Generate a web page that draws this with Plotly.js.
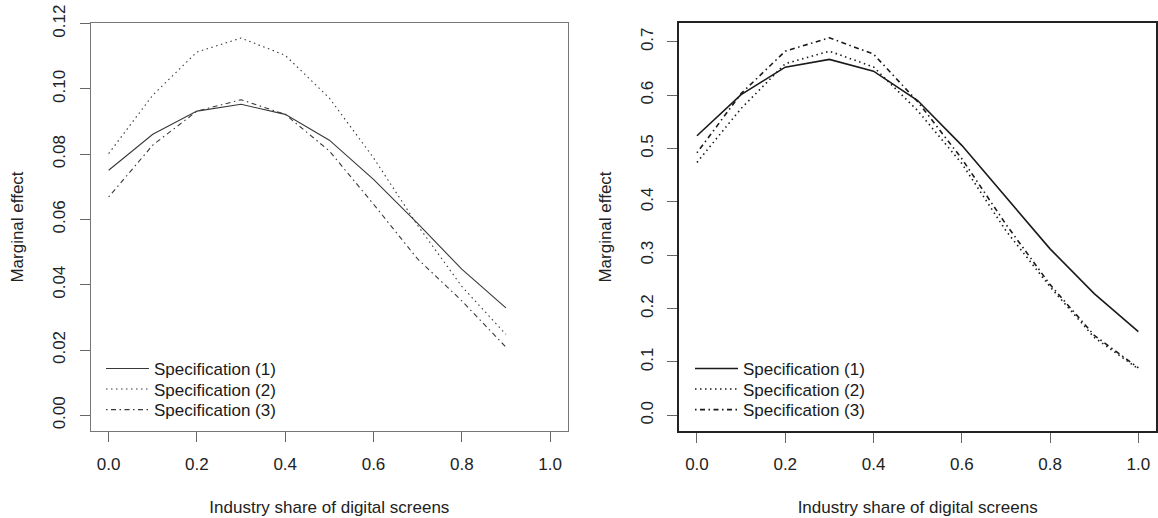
<!DOCTYPE html>
<html>
<head>
<meta charset="utf-8">
<script src="https://cdn.plot.ly/plotly-3.0.1.min.js"></script>
<style>html,body{margin:0;padding:0;background:#fff;}#chart{width:1158px;height:518px;}</style>
</head>
<body>
<div id="chart"></div>
<script>
// Industry share of digital screens
const xLeft  = [0, 0.1, 0.2, 0.3, 0.4, 0.5, 0.6, 0.7, 0.8, 0.9];
const xRight = [0, 0.1, 0.2, 0.3, 0.4, 0.5, 0.6, 0.7, 0.8, 0.9, 1.0];

// Left panel: marginal effect
const leftSpec1 = [0.0751, 0.0861, 0.0932, 0.0953, 0.0922, 0.0843, 0.0723, 0.0588, 0.0448, 0.0329];
const leftSpec2 = [0.0802, 0.0981, 0.1113, 0.1156, 0.1103, 0.0972, 0.0789, 0.0582, 0.0395, 0.0248];
const leftSpec3 = [0.0669, 0.0828, 0.0932, 0.0967, 0.0922, 0.0810, 0.0647, 0.0479, 0.0351, 0.0209];

// Right panel: marginal effect
const rightSpec1 = [0.524, 0.601, 0.6525, 0.667, 0.645, 0.590, 0.506, 0.409, 0.312, 0.228, 0.157];
const rightSpec2 = [0.474, 0.575, 0.659, 0.6825, 0.653, 0.571, 0.472, 0.346, 0.241, 0.146, 0.087];
const rightSpec3 = [0.492, 0.603, 0.6825, 0.7076, 0.677, 0.588, 0.481, 0.358, 0.245, 0.150, 0.089];

const seriesNames = ['Specification (1)', 'Specification (2)', 'Specification (3)'];
const xTitle = 'Industry share of digital screens';
const yTitle = 'Marginal effect';

const FONT = 'Liberation Sans, Arial, Helvetica, sans-serif';
const FS = 17;
const dashes = ['solid', '1.5px,3.5px', '1.5px,3.5px,5px,3.5px'];

// one legend box per entry so the row spacing can follow the original
const legendIds = [['legend', 'legend2', 'legend3'], ['legend4', 'legend5', 'legend6']];

function mk(x, y, i, side) {
  const left = side === 'L';
  return {
    type: 'scatter', mode: 'lines', x: x, y: y, name: seriesNames[i],
    xaxis: left ? 'x' : 'x2', yaxis: left ? 'y' : 'y2',
    legend: legendIds[left ? 0 : 1][i],
    line: {color: left ? '#383838' : '#1a1a1a', width: left ? 1.1 : 1.6, dash: dashes[i]},
    hoverinfo: 'x+y+name'
  };
}

const data = [
  mk(xLeft, leftSpec1, 0, 'L'), mk(xLeft, leftSpec2, 1, 'L'), mk(xLeft, leftSpec3, 2, 'L'),
  mk(xRight, rightSpec1, 0, 'R'), mk(xRight, rightSpec2, 1, 'R'), mk(xRight, rightSpec3, 2, 'R')
];

const tickFont = {family: FONT, size: FS, color: '#222'};
const titleFont = {family: FONT, size: FS, color: '#222'};

function xax(domain, boxColor, boxW) {
  return {
    domain: domain, range: [-0.04, 1.04], tick0: 0, dtick: 0.2, tickformat: '.1f',
    showgrid: false, zeroline: false, showline: true, mirror: true,
    linecolor: boxColor, linewidth: boxW,
    ticks: 'outside', ticklen: 10, tickwidth: 1.2, tickcolor: '#666',
    tickfont: tickFont, ticklabelstandoff: 7,
    title: {text: xTitle, font: titleFont, standoff: 28}
  };
}
function yax(range, dtick, fmt, anchor, boxColor, boxW) {
  return {
    domain: [0, 1], range: range, tick0: 0, dtick: dtick, tickformat: fmt, anchor: anchor,
    showgrid: false, zeroline: false, showline: true, mirror: true,
    linecolor: boxColor, linewidth: boxW,
    ticks: 'outside', ticklen: 10, tickwidth: 1.2, tickcolor: '#666',
    tickfont: tickFont, tickangle: -90, ticklabelstandoff: 8,
    title: {text: yTitle, font: titleFont, standoff: 22}
  };
}

const PLOT_L = 91, PLOT_W = 1065, PLOT_BOTTOM = 431, PLOT_H = 408;
const rowCentres = [369.5, 390, 410.7];
function legendAt(px, row) {
  return {
    font: {family: FONT, size: FS, color: '#1a1a1a'},
    bgcolor: 'rgba(0,0,0,0)', borderwidth: 0, itemwidth: 43,
    xanchor: 'left', yanchor: 'top',
    x: (px - PLOT_L) / PLOT_W,
    y: (PLOT_BOTTOM - (rowCentres[row] - 18.6)) / PLOT_H
  };
}

const layout = {
  width: 1158, height: 518,
  margin: {l: PLOT_L, r: 2, t: 23, b: 87, pad: 0},
  paper_bgcolor: '#fff', plot_bgcolor: '#fff',
  showlegend: true,
  xaxis: Object.assign(xax([0, 0.4476], '#777', 1.3), {anchor: 'y'}),
  yaxis: yax([-0.0048, 0.1202], 0.02, '.2f', 'x', '#777', 1.3),
  xaxis2: Object.assign(xax([0.5524, 1.0], '#222', 2), {anchor: 'y2'}),
  yaxis2: yax([-0.0294, 0.7353], 0.1, '.1f', 'x2', '#222', 2),
  legend: legendAt(101, 0), legend2: legendAt(101, 1), legend3: legendAt(101, 2),
  legend4: legendAt(690, 0), legend5: legendAt(690, 1), legend6: legendAt(690, 2)
};

Plotly.newPlot('chart', data, layout, {displayModeBar: false});
</script>
</body>
</html>
